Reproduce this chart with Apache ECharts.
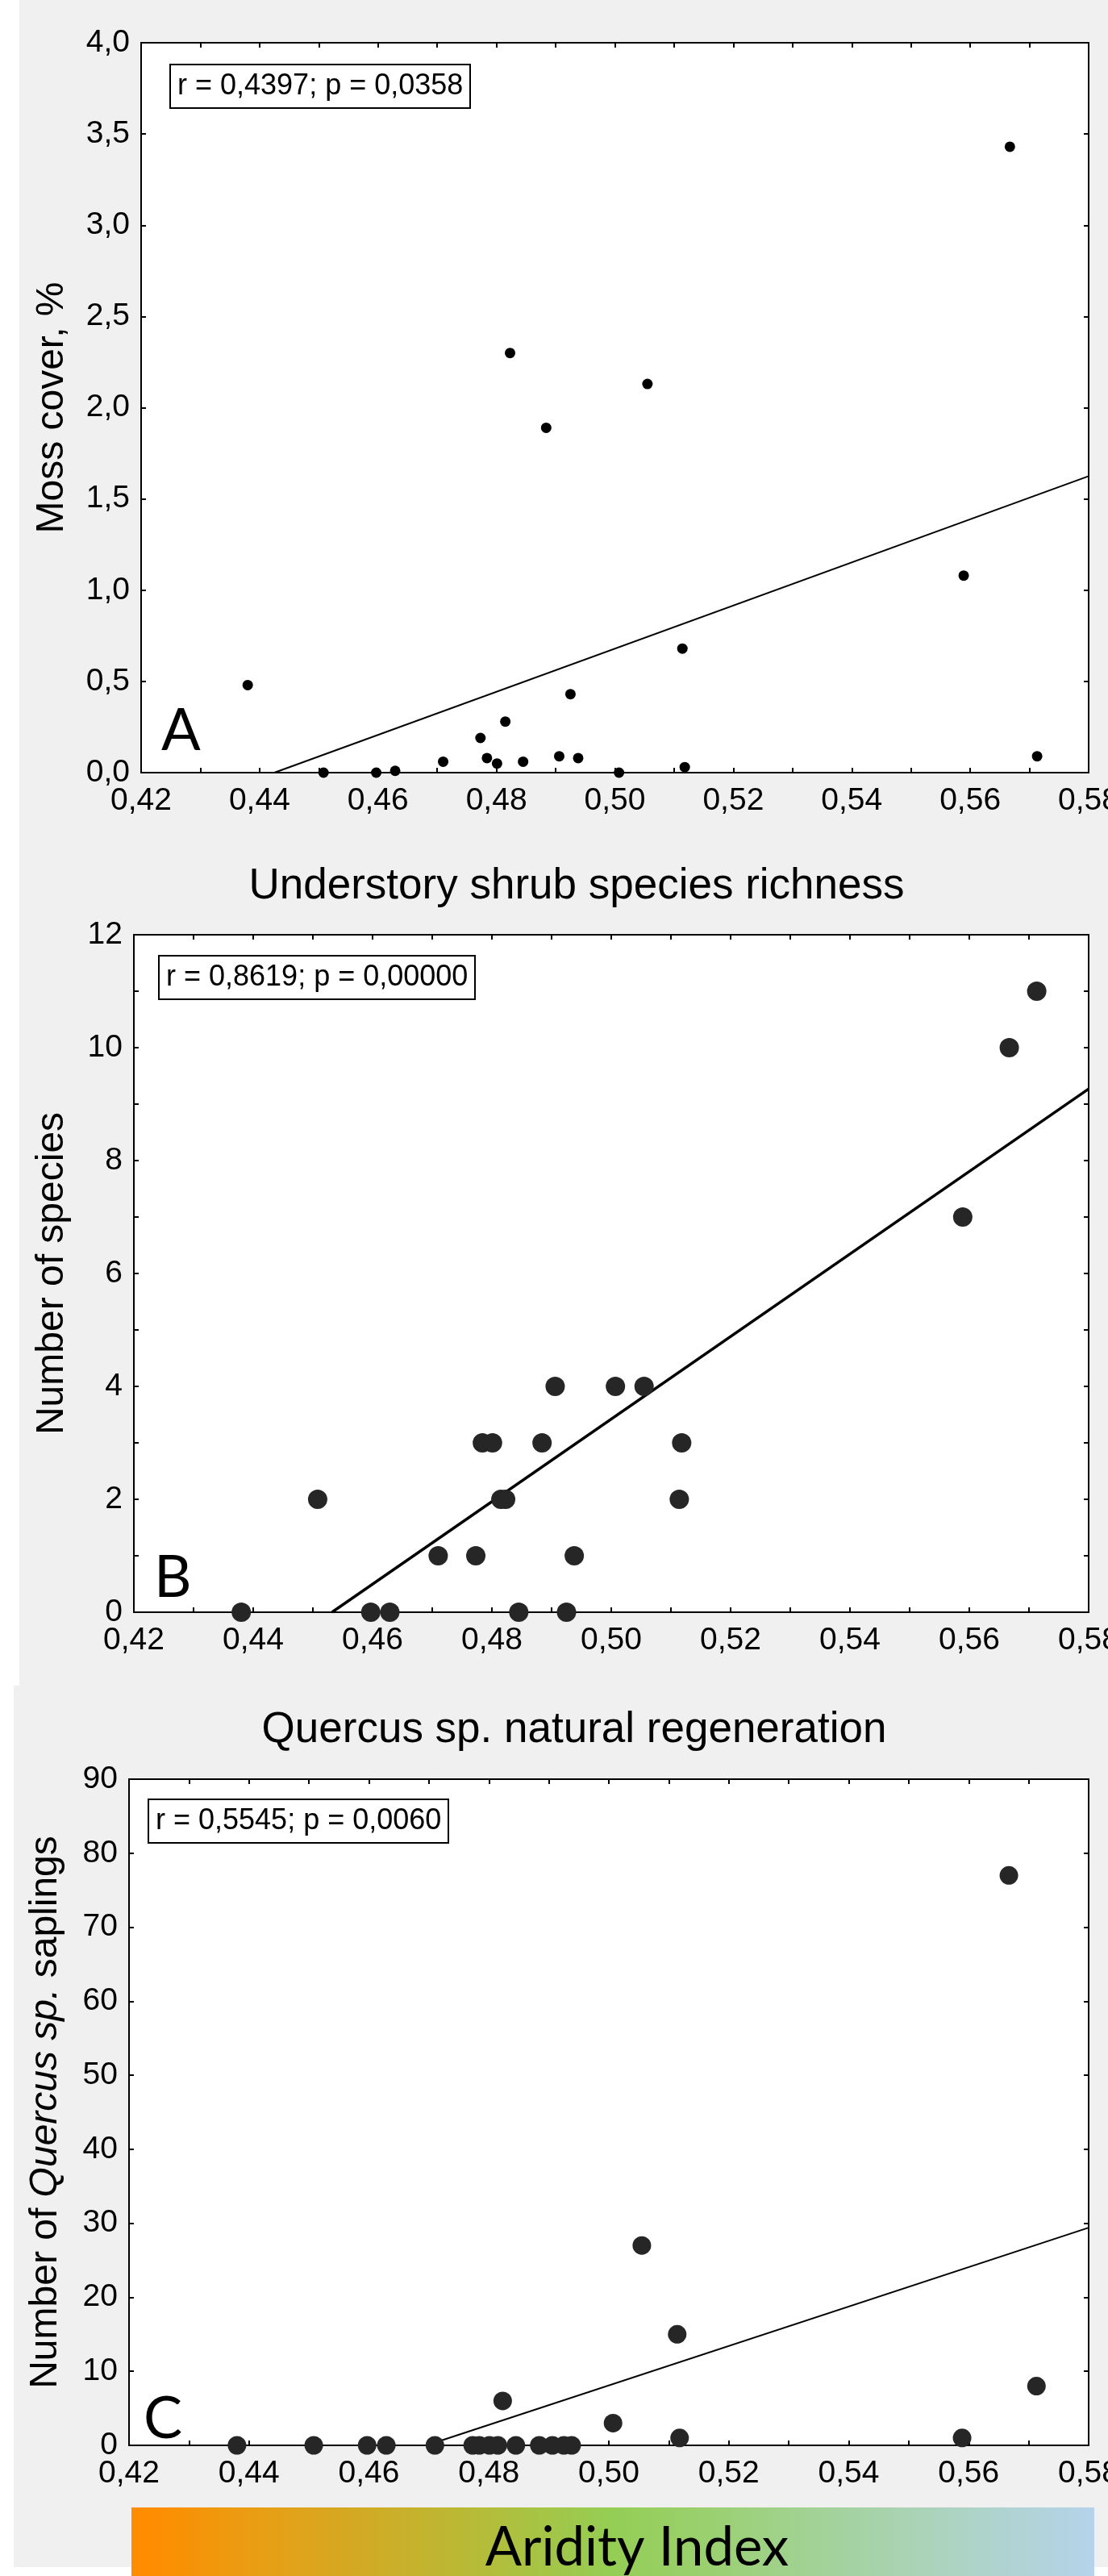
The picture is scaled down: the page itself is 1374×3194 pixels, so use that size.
<!DOCTYPE html>
<html>
<head>
<meta charset="utf-8">
<title>Aridity index</title>
<script src="https://cdn.jsdelivr.net/npm/echarts@6/dist/echarts.min.js"></script>
<style>
  html, body { margin: 0; padding: 0; background: #fff; }
  #main { width: 1374px; height: 3194px; }
</style>
</head>
<body>
<div id="main"></div>
<script>
// aridity index of the 22 plots, shared by the three panels
const aridity = [0.4380, 0.4508, 0.4597, 0.4629, 0.4710, 0.4773, 0.4784, 0.4801, 0.4815, 0.4823, 0.4845,
                 0.4884, 0.4906, 0.4925, 0.4938, 0.5007, 0.5055, 0.5114, 0.5118, 0.5589, 0.5667, 0.5713]
const mossCover = [0.48, 0, 0, 0.01, 0.06, 0.19, 0.08, 0.05, 0.28, 2.30, 0.06,
                   1.89, 0.09, 0.43, 0.08, 0, 2.13, 0.68, 0.03, 1.08, 3.43, 0.09]
const shrubRichness = [0, 2, 0, 0, 1, 1, 3, 3, 2, 2, 0,
                       3, 4, 0, 1, 4, 4, 2, 3, 7, 10, 11]
const quercusSaplings = [0, 0, 0, 0, 0, 0, 0, 0, 0, 6, 0,
                         0, 0, 0, 0, 3, 27, 15, 1, 1, 77, 8]

// fitted lines (end points)
const fitMoss = [[0.4425, 0], [0.58, 1.625]]
const fitShrub = [[0.4532, 0], [0.58, 9.27]]
const fitQuercus = [[0.4696, 0], [0.58, 29.4]]

const xRange = [0.42, 0.58, 0.02]
const yRanges = [[0, 4, 0.5], [0, 12, 2], [0, 90, 10]]
const statsText = ['r = 0,4397; p = 0,0358', 'r = 0,8619; p = 0,00000', 'r = 0,5545; p = 0,0060']
const panelLetters = ['A', 'B', 'C']
const panelTitles = ['Understory shrub species richness', 'Quercus sp. natural regeneration']

const FONT = "'Liberation Sans', Arial, sans-serif"
const comma = (v, d) => v.toFixed(d).replace('.', ',')

const grids = [
    {left: 175, top: 53, width: 1175, height: 905},
    {left: 166, top: 1159, width: 1184, height: 840},
    {left: 160, top: 2206, width: 1190, height: 826}
]

const tickLine = {color: '#000', width: 2}

function makeX(gi, top) {
    return {
        type: 'value', gridIndex: gi,
        min: xRange[0], max: xRange[1], interval: xRange[2],
        position: top ? 'top' : 'bottom',
        axisLine: {show: true, onZero: false, lineStyle: {color: '#000', width: 2}},
        axisTick: {show: true, inside: true, length: 6, lineStyle: tickLine},
        minorTick: {show: true, splitNumber: 2, length: 6, lineStyle: tickLine},
        splitLine: {show: false},
        axisLabel: {
            show: !top, margin: 16, fontSize: 39, color: '#000', fontFamily: FONT,
            formatter: v => comma(v, 2)
        }
    }
}

function makeY(gi, right, name, gap, decimals, minor) {
    let r = yRanges[gi]
    let ax = {
        type: 'value', gridIndex: gi,
        min: r[0], max: r[1], interval: r[2],
        position: right ? 'right' : 'left',
        axisLine: {show: true, onZero: false, lineStyle: {color: '#000', width: 2}},
        axisTick: {show: true, inside: true, length: 6, lineStyle: tickLine},
        minorTick: {show: minor, splitNumber: 2, length: 6, lineStyle: tickLine},
        splitLine: {show: false},
        axisLabel: {
            show: !right, margin: 14, fontSize: 39, color: '#000', fontFamily: FONT,
            formatter: v => comma(v, decimals)
        }
    }
    if (!right) {
        ax.name = name
        ax.nameLocation = 'middle'
        ax.nameRotate = 90
        ax.nameGap = gap
        ax.nameTextStyle = {
            fontSize: 48, color: '#000', fontFamily: FONT,
            rich: {
                n: {fontSize: 48, color: '#000', fontFamily: FONT},
                i: {fontSize: 48, color: '#000', fontFamily: FONT, fontStyle: 'italic'}
            }
        }
    }
    return ax
}

function scatter(gi, values, size, color) {
    return {
        type: 'scatter', xAxisIndex: gi * 2, yAxisIndex: gi * 2,
        data: aridity.map((x, i) => [x, values[i]]),
        symbolSize: size,
        itemStyle: {color: color, opacity: 1},
        z: 4
    }
}

function fitLine(gi, pts, width) {
    return {
        type: 'line', xAxisIndex: gi * 2, yAxisIndex: gi * 2,
        data: pts, symbol: 'none', silent: true, clip: true,
        lineStyle: {color: '#000', width: width},
        z: 3
    }
}

function statBox(gi, left, top) {
    return {
        text: statsText[gi], left: left, top: top,
        padding: [9, 9], borderColor: '#000', borderWidth: 2, backgroundColor: '#fff',
        textStyle: {fontSize: 36, fontWeight: 'normal', color: '#000', fontFamily: FONT}
    }
}

const letterPos = [[200, 907], [191, 1957], [178, 3000]]

let myChart = echarts.init(document.getElementById('main'), null, {renderer: 'canvas'})

var option = {
    backgroundColor: '#fff',
    animation: false,
    grid: grids.map(g => Object.assign({
        show: true, backgroundColor: '#fff', borderColor: '#000', borderWidth: 2,
        containLabel: false, outerBoundsMode: 'none'
    }, g)),
    xAxis: [makeX(0, false), makeX(0, true), makeX(1, false), makeX(1, true), makeX(2, false), makeX(2, true)],
    yAxis: [
        makeY(0, false, 'Moss cover, %', 86, 1, false), makeY(0, true),
        makeY(1, false, 'Number of species', 77, 0, true), makeY(1, true, '', 0, 0, true),
        makeY(2, false, '{n|Number of }{i|Quercus sp.}{n| saplings}', 79, 0, false), makeY(2, true)
    ],
    title: [statBox(0, 211, 80), statBox(1, 197, 1185), statBox(2, 184, 2231)],
    graphic: [
        // grey panels behind the plots
        {type: 'rect', z: -10, shape: {x: 24, y: 0, width: 1350, height: 2090}, style: {fill: '#f0f0f0'}},
        {type: 'rect', z: -10, shape: {x: 17, y: 2090, width: 1357, height: 1093}, style: {fill: '#f0f0f0'}},
        // panel headings
        {type: 'text', z: 10, x: 715, y: 1099, style: {text: panelTitles[0], font: '53px ' + FONT, fill: '#000', align: 'center', verticalAlign: 'middle'}},
        {type: 'text', z: 10, x: 712, y: 2145, style: {text: panelTitles[1], font: '53px ' + FONT, fill: '#000', align: 'center', verticalAlign: 'middle'}},
        // panel letters
        ...panelLetters.map((t, i) => ({
            type: 'text', z: 10, x: letterPos[i][0], y: letterPos[i][1],
            style: {text: t, font: '72px Lato, sans-serif', fill: '#000', align: 'left', verticalAlign: 'middle'}
        })),
        // aridity colour bar
        {
            type: 'rect', z: 5, shape: {x: 163, y: 3109, width: 1194, height: 85},
            style: {
                fill: new echarts.graphic.LinearGradient(0, 0, 1, 0, [
                    {offset: 0, color: '#ff8c00'},
                    {offset: 0.03, color: '#fc8e02'},
                    {offset: 0.13, color: '#e89e14'},
                    {offset: 0.24, color: '#d2aa24'},
                    {offset: 0.35, color: '#b8ba36'},
                    {offset: 0.50, color: '#94ce54'},
                    {offset: 0.60, color: '#9bd070'},
                    {offset: 0.72, color: '#a3d29a'},
                    {offset: 0.86, color: '#add3c4'},
                    {offset: 1, color: '#b5d3ea'}
                ])
            }
        },
        {type: 'text', z: 10, x: 790, y: 3159, style: {text: 'Aridity Index', font: '67px Lato, sans-serif', fill: '#000', align: 'center', verticalAlign: 'middle'}}
    ],
    series: [
        scatter(0, mossCover, 13, '#000'),
        fitLine(0, fitMoss, 2),
        scatter(1, shrubRichness, 24, '#262626'),
        fitLine(1, fitShrub, 3.5),
        scatter(2, quercusSaplings, 23, '#262626'),
        fitLine(2, fitQuercus, 2)
    ]
}

myChart.setOption(option)
</script>
</body>
</html>
